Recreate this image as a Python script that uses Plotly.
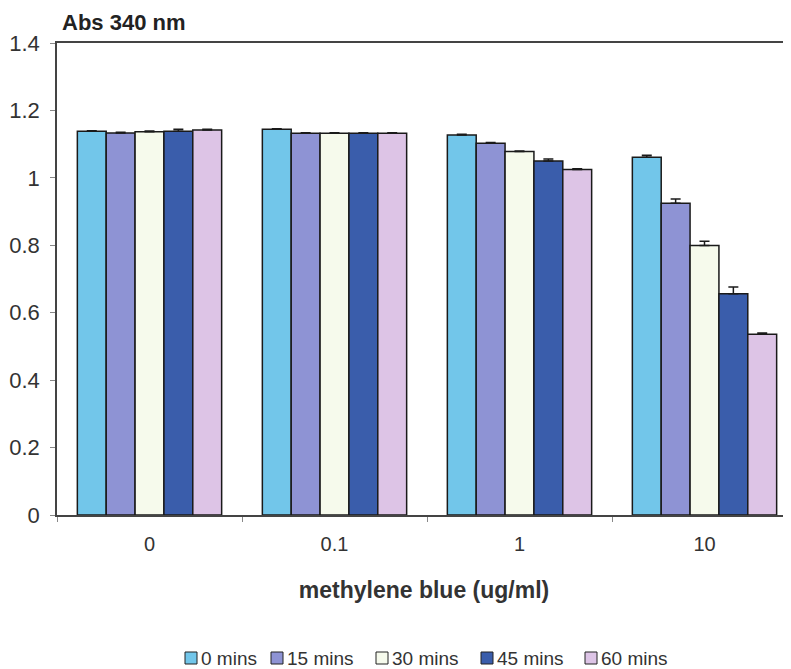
import plotly.graph_objects as go

categories = ["0", "0.1", "1", "10"]
series_names = ["0 mins", "15 mins", "30 mins", "45 mins", "60 mins"]
values = {
    "0 mins":  [1.138, 1.144, 1.127, 1.061],
    "15 mins": [1.133, 1.132, 1.103, 0.925],
    "30 mins": [1.137, 1.132, 1.078, 0.799],
    "45 mins": [1.138, 1.132, 1.050, 0.656],
    "60 mins": [1.142, 1.132, 1.025, 0.536],
}
errors = {
    "0 mins":  [0.002, 0.002, 0.002, 0.006],
    "15 mins": [0.002, 0.002, 0.002, 0.012],
    "30 mins": [0.002, 0.002, 0.002, 0.013],
    "45 mins": [0.006, 0.002, 0.006, 0.020],
    "60 mins": [0.002, 0.002, 0.002, 0.004],
}
colors = ["#72C6EA", "#8E93D4", "#F6FAEC", "#3A5DAB", "#DDC4E6"]
y_ticks = [0, 0.2, 0.4, 0.6, 0.8, 1.0, 1.2, 1.4]
y_tick_labels = ["0", "0.2", "0.4", "0.6", "0.8", "1", "1.2", "1.4"]

FONT = "Liberation Sans, Arial, sans-serif"
TXT = "#333333"

fig = go.Figure()
for name, col in zip(series_names, colors):
    fig.add_trace(go.Bar(
        name=name,
        x=categories,
        y=values[name],
        showlegend=False,
        marker=dict(color=col, line=dict(color="#1a1a1a", width=1.5)),
        error_y=dict(type="data", symmetric=False, array=errors[name],
                     arrayminus=[0] * len(categories),
                     color="#1a1a1a", thickness=1.5, width=5),
    ))

# the page body adds an 8px margin; work in figure pixels
OFF = 8
W, H = 791 - OFF, 669 - OFF
left, top, bottom_px = 57 - OFF, 43 - OFF, 515 - OFF
pw, ph = W - left, bottom_px - top
CAT_PX = 185.0  # width of one category band in the reference

def px_to_paper_x(px):
    return (px - OFF - left) / pw

def px_to_paper_y(py):
    return (bottom_px - (py - OFF)) / ph

# custom legend (layout only); positions in window pixels
legend_square_px = [185, 271, 376, 481, 585]
legend_y_px = 658
shapes = []
annotations = []
for name, col, sx in zip(series_names, colors, legend_square_px):
    shapes.append(dict(
        type="rect", xref="paper", yref="paper",
        x0=px_to_paper_x(sx), x1=px_to_paper_x(sx + 12),
        y0=px_to_paper_y(legend_y_px + 6), y1=px_to_paper_y(legend_y_px - 6),
        fillcolor=col, line=dict(color="#222222", width=1),
    ))
    annotations.append(dict(
        text=name, xref="paper", yref="paper",
        x=px_to_paper_x(sx + 14), y=px_to_paper_y(legend_y_px),
        xanchor="left", yanchor="middle", showarrow=False,
        font=dict(size=19, color=TXT, family=FONT),
    ))

annotations.append(dict(
    text="<b>Abs 340 nm</b>", xref="paper", yref="paper",
    x=px_to_paper_x(60), y=px_to_paper_y(22.5),
    xanchor="left", yanchor="middle", showarrow=False,
    font=dict(size=22, color="#222222", family=FONT),
))

fig.update_layout(
    width=W, height=H,
    margin=dict(l=left, r=0, t=top, b=H - bottom_px, autoexpand=False),
    paper_bgcolor="white", plot_bgcolor="white",
    barmode="group", bargap=0.22, bargroupgap=0,
    font=dict(family=FONT, size=20, color=TXT),
    showlegend=False,
    xaxis=dict(
        type="category", automargin=False,
        range=[-0.5, -0.5 + pw / CAT_PX],
        showline=True, linecolor="#444444", linewidth=1.5, mirror=True,
        ticks="outside", ticklen=5, tickcolor="#888888", tickson="boundaries",
        ticklabelstandoff=10,
        showgrid=False, zeroline=False,
        tickfont=dict(size=20, color=TXT),
        title=dict(text="<b>methylene blue (ug/ml)</b>", standoff=28,
                   font=dict(size=23, color=TXT)),
    ),
    yaxis=dict(
        range=[0, 1.4], automargin=False,
        tickvals=y_ticks, ticktext=y_tick_labels,
        showline=True, linecolor="#444444", linewidth=1.5,
        ticks="outside", ticklen=5, tickcolor="#888888",
        ticklabelstandoff=6,
        showgrid=False, zeroline=False,
        tickfont=dict(size=22, color=TXT),
    ),
    shapes=shapes,
    annotations=annotations,
)

fig.write_html("out.html")
